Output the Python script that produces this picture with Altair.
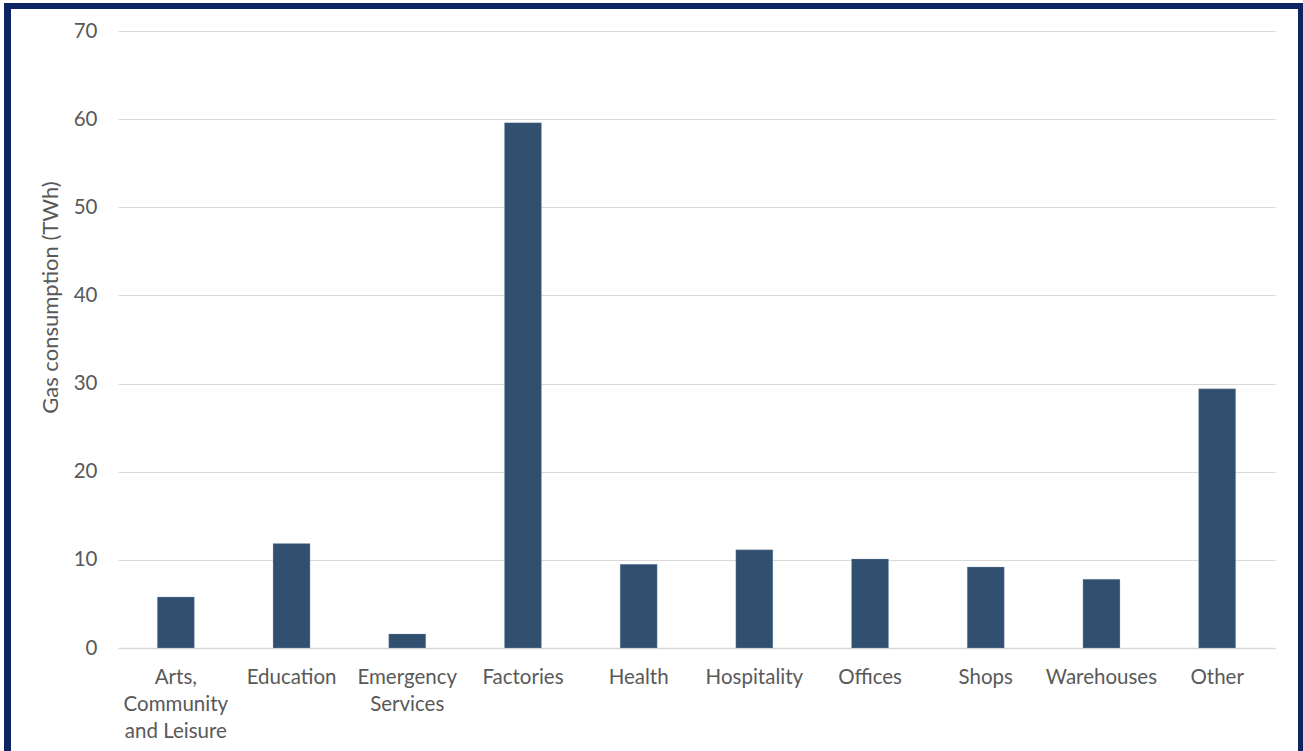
import altair as alt
import pandas as pd

# Non-domestic gas consumption by building category (TWh)
categories = [
    "Arts,|Community|and Leisure",
    "Education",
    "Emergency|Services",
    "Factories",
    "Health",
    "Hospitality",
    "Offices",
    "Shops",
    "Warehouses",
    "Other",
]
consumption = [5.8, 11.85, 1.6, 59.6, 9.5, 11.15, 10.1, 9.2, 7.8, 29.4]
y_ticks = [0, 10, 20, 30, 40, 50, 60, 70]

df = pd.DataFrame({"category": categories, "twh": consumption})

FONT = "Lato"
TEXT = "#595959"
BAR = "#31506f"
NAVY = "#0c2461"

W, H = 1157, 617
LEFT, TOP = 118, 31

bars = alt.Chart(df).mark_bar(color=BAR, stroke="#9fb3c8", strokeWidth=0.6, strokeOpacity=0.5).encode(
    x=alt.X(
        "category:N",
        sort=categories,
        scale=alt.Scale(paddingInner=0.68, paddingOuter=0.34),
        axis=alt.Axis(
            title=None,
            labelAngle=0,
            labelExpr="split(datum.label, '|')",
            labelFont=FONT,
            labelFontSize=20.5,
            labelColor=TEXT,
            labelLineHeight=27,
            labelPadding=19,
            labelBaseline="top",
            ticks=False,
            domainColor="#d9d9d9",
            domainWidth=1.5,
            grid=False,
        ),
    ),
    y=alt.Y(
        "twh:Q",
        scale=alt.Scale(domain=[0, 70], nice=False),
        axis=alt.Axis(
            title="Gas consumption (TWh)",
            values=y_ticks,
            labelFont=FONT,
            labelFontSize=20.5,
            labelColor=TEXT,
            labelPadding=21,
            titleFont=FONT,
            titleFontSize=22,
            titleFontWeight="normal",
            titleColor=TEXT,
            titleAngle=270,
            titleAlign="center",
            titleBaseline="middle",
            titleX=50 - LEFT,
            titleY=297 - TOP,
            ticks=False,
            domain=False,
            gridColor="#d9d9d9",
            gridWidth=1.2,
        ),
    ),
)

# Dark frame around the whole figure
frame = alt.Chart(df).mark_rect(
    fill=None, stroke=NAVY, strokeWidth=6
).encode(
    x=alt.value(7.5 - LEFT),
    x2=alt.value(1301.5 - LEFT),
    y=alt.value(6 - TOP),
    y2=alt.value(770 - TOP),
)

chart = (
    alt.layer(bars, frame)
    .properties(
        width=W,
        height=H,
        autosize=alt.AutoSizeParams(type="none"),
        padding={"left": LEFT, "top": TOP, "right": 1303 - LEFT - W, "bottom": 751 - TOP - H},
        background="white",
    )
    .configure_view(stroke=None)
)

chart.save("out.html", embed_options={"renderer": "svg", "actions": False})
